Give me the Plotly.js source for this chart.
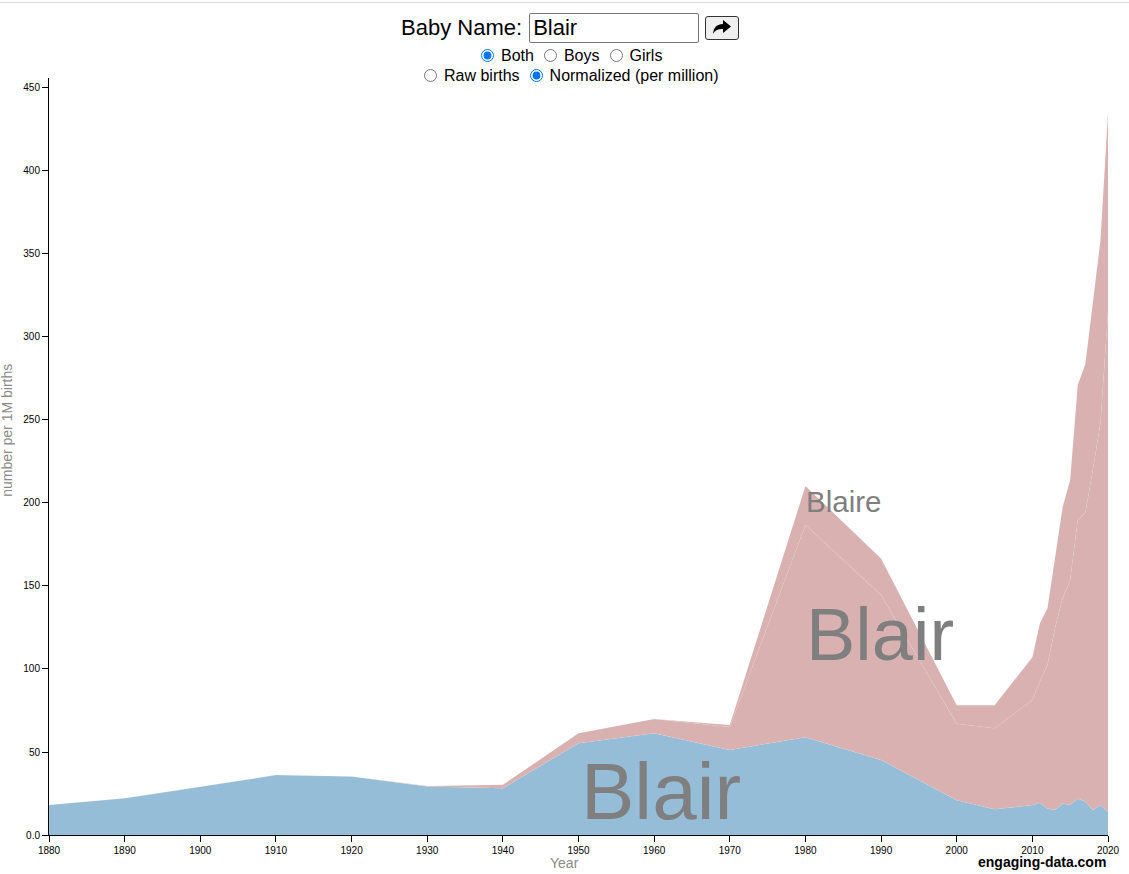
<!DOCTYPE html>
<html>
<head>
<meta charset="utf-8">
<script src="https://cdn.plot.ly/plotly-3.0.1.min.js"></script>
<style>
  html, body { margin:0; padding:0; background:#fff; }
  body { width:1129px; height:874px; position:relative; overflow:hidden; font-family:"Liberation Sans", Arial, sans-serif; }
  #topline { position:absolute; left:0; top:2px; width:1129px; height:1px; background:#dcdcdc; }
  #chart { position:absolute; left:0; top:0; width:1129px; height:874px; }
  .ctrl { position:absolute; left:0; width:1129px; text-align:left; z-index:5; color:#000; white-space:nowrap; }
  #row1 { top:13px; font-size:22px; padding-left:401px; box-sizing:border-box; }
  #row1 span { vertical-align:middle; }
  #nameInput { font-family:"Liberation Sans", Arial, sans-serif; font-size:22px; width:162px; height:26px; padding:1px 3px; border:1px solid #767676; border-radius:2px; vertical-align:middle; margin:0 0 0 1px; }
  #goBtn { width:34px; height:24px; border:1px solid #333; border-radius:3px; background:#efefef; vertical-align:middle; margin-left:6px; padding:0; }
  .radios { font-size:16px; box-sizing:border-box; }
  .radios input { margin:0 7px 0 0; vertical-align:-1px; width:13px; height:13px; }
  .radios label { margin-right:10px; }
  #row2 { top:47px; padding-left:481px; }
  #row3 { top:67px; padding-left:424px; }
</style>
</head>
<body>
<div id="topline"></div>
<div id="chart"></div>
<div class="ctrl" id="row1"><span>Baby Name:</span> <input id="nameInput" type="text" value="Blair"><button id="goBtn"><svg width="20" height="16" viewBox="0 0 20 16"><path d="M11 1 L19 7.5 L11 14 L11 10 C6 10 3 11 1 15 C1.5 8.5 5 5 11 5 Z" fill="#000"/></svg></button></div>
<div class="ctrl radios" id="row2"><input type="radio" name="sex" checked><label>Both</label><input type="radio" name="sex"><label>Boys</label><input type="radio" name="sex"><label>Girls</label></div>
<div class="ctrl radios" id="row3"><input type="radio" name="norm"><label>Raw births</label><input type="radio" name="norm" checked><label>Normalized (per million)</label></div>
<script>
// ---- data (per million births) ----
const years = [1880,1890,1900,1910,1920,1930,1940,1950,1960,1970,1980,1990,2000,2005,2010,2011,2012,2013,2014,2015,2016,2017,2018,2019,2020];
const boysBlair = [18.1,22.1,29.1,36.1,35.3,29.2,28.2,55.3,61.3,51.2,58.9,45.2,21.0,15.5,18.0,19.5,16.0,15.0,19.0,18.0,22.0,20.0,15.0,18.0,13.7];
const girlsBlair = [0,0,0,0,0,0.3,2.0,6.0,8.6,13.8,127.8,99.4,46.0,48.8,63.3,73.1,86.4,109.7,123.8,135.6,167.8,174.0,205.0,230.0,301.0];
const girlsBlaire = [0,0,0,0,0,0,0,0,0,1.3,23.5,21.9,11.2,13.9,25.7,34.9,34.2,41.3,54.7,60.4,81.2,89.5,100.0,110.0,120.0];
const xTicks = [1880,1890,1900,1910,1920,1930,1940,1950,1960,1970,1980,1990,2000,2010,2020];
const yTicks = [0,50,100,150,200,250,300,350,400,450];
const yTickText = ["0.0","50","100","150","200","250","300","350","400","450"];
const labels = [
  {text:"Blair", x:1950.2, y:26.0, size:80},
  {text:"Blair", x:1980, y:120.5, size:74},
  {text:"Blaire", x:1980, y:201, size:29.5}
];

const blue = "#96bdd8";
const pink = "#d9b1b1";
const edge = {width:0.5, color:"rgba(255,255,255,0.1)", shape:"linear"};

const traces = [
  {x:years, y:boysBlair, type:"scatter", mode:"lines", stackgroup:"s", fillcolor:blue, line:edge, name:"Blair (boys)", hoverinfo:"x+y"},
  {x:years, y:girlsBlair, type:"scatter", mode:"lines", stackgroup:"s", fillcolor:pink, line:edge, name:"Blair (girls)", hoverinfo:"x+y"},
  {x:years, y:girlsBlaire, type:"scatter", mode:"lines", stackgroup:"s", fillcolor:pink, line:edge, name:"Blaire (girls)", hoverinfo:"x+y"}
];

const font = "Liberation Sans, Arial, sans-serif";
const annotations = labels.map(l => ({
  text:l.text, x:l.x, y:l.y, xref:"x", yref:"y", xanchor:"left", yanchor:"middle",
  showarrow:false, borderpad:0, font:{family:font, size:l.size, color:"#7f7f7f"}
}));
annotations.push(
  {text:"Year", xref:"paper", yref:"paper", x:0.487, y:-0.0365, xanchor:"center", yanchor:"middle", showarrow:false, font:{family:font, size:14, color:"#8a8a8a"}},
  {text:"number per 1M births", xref:"paper", yref:"paper", x:-0.0396, y:0.534, xanchor:"center", yanchor:"middle", textangle:-90, showarrow:false, font:{family:font, size:14, color:"#8a8a8a"}},
  {text:"<b>engaging-data.com</b>", xref:"paper", yref:"paper", x:1.0, y:-0.0355, xanchor:"right", yanchor:"middle", showarrow:false, font:{family:font, size:14, color:"#000"}}
);

const layout = {
  width:1129, height:874,
  margin:{l:49, r:21, t:78, b:39, pad:0},
  paper_bgcolor:"rgba(0,0,0,0)", plot_bgcolor:"#fff",
  showlegend:false,
  xaxis:{range:[1880,2020], tickvals:xTicks, ticktext:xTicks.map(String), showgrid:false, zeroline:false,
         showline:true, linecolor:"#000", linewidth:1, ticks:"outside", ticklen:6, tickcolor:"#000",
         tickfont:{family:font, size:10, color:"#000"}, fixedrange:true},
  yaxis:{range:[0,456], tickvals:yTicks, ticktext:yTickText, showgrid:false, zeroline:false,
         showline:true, linecolor:"#000", linewidth:1, ticks:"outside", ticklen:6, tickcolor:"#000",
         tickfont:{family:font, size:10, color:"#000"}, fixedrange:true},
  annotations:annotations
};
Plotly.newPlot("chart", traces, layout, {displayModeBar:false, staticPlot:true});
</script>
</body>
</html>
